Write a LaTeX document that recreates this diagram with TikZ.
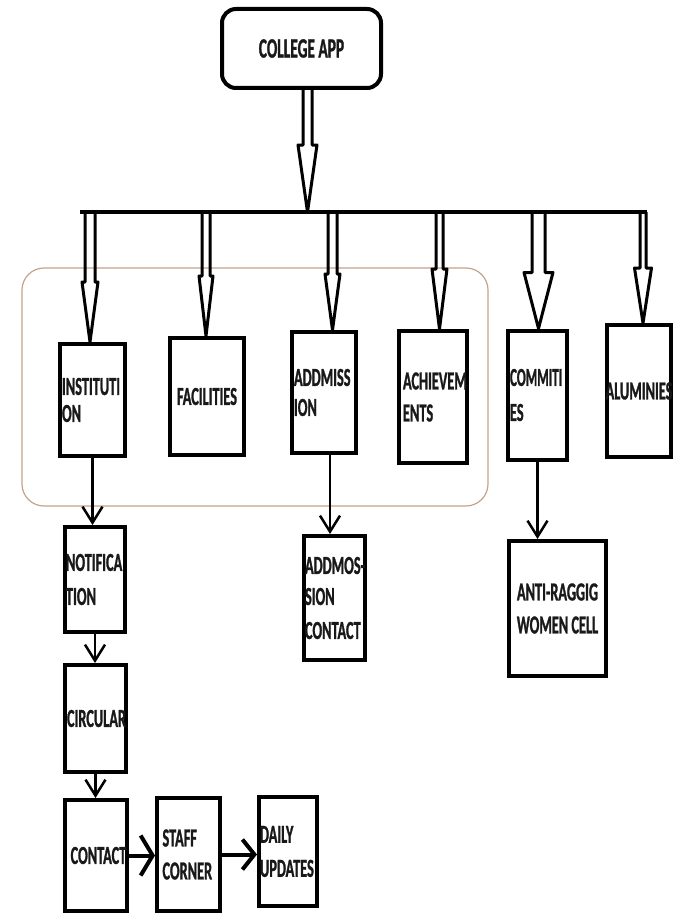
\documentclass[tikz,border=0pt]{standalone}
\usepackage{graphicx}
\usepackage{fontspec}
\newfontfamily\boxfont{Carlito}[FakeStretch=0.55,FakeBold=1]
\usetikzlibrary{arrows.meta,calc}
\definecolor{frametan}{RGB}{196,162,138}
\definecolor{ink}{RGB}{25,25,25}
\newcommand\hollowarrow[5]{%
  \draw[hollow] ($(#1)+(-#3,0)$) -- ($(#2)+(-#3,-#5)$) -- ($(#2)+(-#4,-#5)$) -- (#2)
    -- ($(#2)+(#4,-#5)$) -- ($(#2)+(#3,-#5)$) -- ($(#1)+(#3,0)$);}
\begin{document}
\begin{tikzpicture}[x=1pt,y=-1pt,
  box/.style={draw=black, line width=4pt, inner sep=0pt, align=left, text=ink,
    font=\boxfont\bfseries\fontsize{26}{33}\selectfont},
  hollow/.style={draw=black, line width=3pt, line join=round},
  barline/.style={draw=black, line width=4pt},
  thinarrow/.style={draw=black, line width=2.5pt, -{Straight Barb[length=16pt,width=20pt]}},
  wideV/.style={draw=black, line width=4pt, -{Straight Barb[length=12pt,width=40pt]}},
  wideV2/.style={draw=black, line width=4pt, -{Straight Barb[length=12pt,width=30pt]}},
  groupframe/.style={draw=frametan, line width=1.2pt, rounded corners=22pt}]
\useasboundingbox (0,0) rectangle (676,915);
% top
\node[box, align=center, rounded corners=14pt, minimum width=159pt, minimum height=79pt,
  font=\boxfont\bfseries\fontsize{28}{33}\selectfont] (app) at (301.5,48.5) {COLLEGE APP};
% first row
\node[box, minimum width=65pt, minimum height=112pt, text width=61pt] (inst) at (92.5,400) {INSTITUTI\\[-6pt]ON};
\node[box, align=center, minimum width=74pt, minimum height=117pt] (fac) at (207,396.5) {FACILITIES};
\node[box, minimum width=64pt, minimum height=121pt, text width=60pt] (addm) at (324,392.5) {ADDMISS\\[-3pt]ION};
\node[box, minimum width=68pt, minimum height=132pt, text width=62pt] (ach) at (433,397) {\hspace*{1pt}ACHIEVEM\\[-1pt]\hspace*{1pt}ENTS};
\node[box, minimum width=59pt, minimum height=129pt, text width=55pt] (comm) at (537.5,395) {\scalebox{0.92}[1]{COMMITI}\\[2pt]ES};
\node[box, align=center, minimum width=64pt, minimum height=132pt] (alum) at (639,391) {\makebox[0pt]{ALUMINIES}};
% lower boxes
\node[box, minimum width=60pt, minimum height=105pt, text width=58pt] (notif) at (95,579.5) {NOTIFICA\\[1pt]TION};
\node[box, align=center, minimum width=61pt, minimum height=107pt] (circ) at (95.5,718.5) {\makebox[0pt]{\hspace*{2pt}CIRCULAR}};
\node[box, align=center, minimum width=62pt, minimum height=111pt] (cont) at (96,855.5) {\makebox[0pt]{\hspace*{5pt}\raisebox{-6pt}{CONTACT}}};
\node[box, minimum width=63pt, minimum height=113pt, text width=52pt] (staff) at (188.5,854.5) {STAFF\\CORNER};
\node[box, minimum width=58pt, minimum height=109pt, text width=56pt] (daily) at (288,851.5) {DAILY\\[1pt]UPDATES};
\node[box, minimum width=61pt, minimum height=124pt, text width=59pt] (addmos) at (334.5,598) {\mbox{ADDMOS-}\\[-2pt]SION\\[1pt]CONTACT};
\node[box, align=center, minimum width=97pt, minimum height=135pt] (anti) at (557.5,608.5) {ANTI-RAGGIG\\WOMEN CELL};
% group frame
\draw[groupframe] (22,268) rectangle (488,506);
% bar and hollow arrows
\coordinate (barL) at (80,212);
\coordinate (barR) at (647,212);
\coordinate (b0) at (307.5,212);
\coordinate (b1) at (90,212);
\coordinate (b2) at (206,212);
\coordinate (b3) at (332.5,212);
\coordinate (b4) at (439.5,212);
\coordinate (b5) at (538.5,212);
\coordinate (b6) at (643,212);
\coordinate (s0) at (b0 |- app.south);
\coordinate (t1) at (b1 |- inst.north);
\coordinate (t2) at (b2 |- fac.north);
\coordinate (t3) at (b3 |- addm.north);
\coordinate (t4) at (b4 |- ach.north);
\coordinate (t5) at (b5 |- comm.north);
\coordinate (t6) at (b6 |- alum.north);
\hollowarrow{s0}{b0}{4.5}{9.5}{67}
\hollowarrow{b1}{t1}{5}{8}{60}
\hollowarrow{b2}{t2}{4}{7}{60}
\hollowarrow{b3}{t3}{4.5}{7.5}{56}
\hollowarrow{b4}{t4}{3.5}{7.5}{60}
\hollowarrow{b5}{t5}{6.5}{14.5}{56}
\hollowarrow{b6}{t6}{3}{8.5}{55}
\draw[barline] (barL) -- (barR);
% small connectors
\coordinate (c3) at (330,0);
\draw[thinarrow] (inst.south) -- (inst.south |- notif.north);
\draw[thinarrow] (notif.south) -- (notif.south |- circ.north);
\draw[thinarrow] (circ.south) -- (circ.south |- cont.north);
\draw[wideV] (cont.east) -- (cont.east -| staff.west);
\draw[wideV2] (staff.east) -- (staff.east -| daily.west);
\draw[thinarrow] (c3 |- addm.south) -- (c3 |- addmos.north);
\draw[thinarrow] (comm.south) -- (comm.south |- anti.north);
\end{tikzpicture}
\end{document}
